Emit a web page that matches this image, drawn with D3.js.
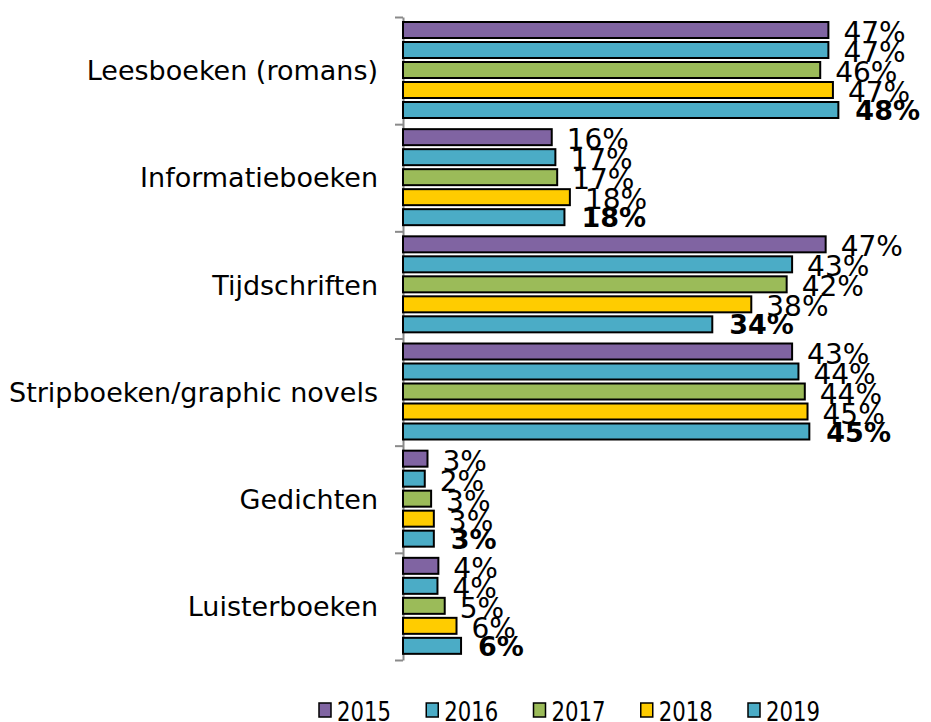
<!DOCTYPE html>
<html>
<head>
<meta charset="utf-8">
<script src="https://cdn.jsdelivr.net/npm/d3@7"></script>
<style>
  body { margin: 0; background: #fff; }
  text { font-family: "DejaVu Sans", Verdana, sans-serif; fill: #000; }
</style>
</head>
<body>
<div id="chart"></div>
<script>
var categories = ['Leesboeken (romans)', 'Informatieboeken', 'Tijdschriften',
                  'Stripboeken/graphic novels', 'Gedichten', 'Luisterboeken'];
var years = ['2015', '2016', '2017', '2018', '2019'];
var colors = ['#8064a2', '#4bacc6', '#9bbb59', '#ffcc00', '#4bacc6'];

// percentages per year, same order as categories
var v2015 = [46.9, 16.4, 46.6, 42.9, 2.7, 3.9];
var v2016 = [46.9, 16.8, 42.9, 43.6, 2.4, 3.8];
var v2017 = [46.0, 17.0, 42.3, 44.3, 3.1, 4.6];
var v2018 = [47.4, 18.4, 38.4, 44.6, 3.4, 5.9];
var v2019 = [48.0, 17.8, 34.1, 44.8, 3.4, 6.4];
var series = [v2015, v2016, v2017, v2018, v2019];

document.addEventListener("DOMContentLoaded", function() {
  var width = 931,
      height = 722,
      svg = d3.select('#chart').append('svg')
              .attr('width', width)
              .attr('height', height);

  var axisX = 403;

  var x = d3.scaleLinear()
    .domain([0, 50])
    .range([axisX, axisX + 453.5]);

  var y = d3.scaleBand()
    .domain(categories)
    .range([17, 660]);

  var yInner = d3.scaleBand()
    .domain(years)
    .range([5, 101])
    .paddingInner(0.2);

  // axis with ticks on the category boundaries
  var edge = d3.scaleLinear().domain([0, categories.length]).range([17, 660]);
  var axis = svg.append('g')
    .attr('transform', 'translate(' + axisX + ',0)')
    .call(d3.axisLeft(edge).tickValues(d3.range(categories.length + 1))
      .tickFormat('').tickSize(8).tickSizeOuter(0));
  axis.selectAll('path, line').attr('stroke', '#8a8a8a').attr('stroke-width', 2);

  // category labels
  svg.append('g').selectAll('text')
    .data(categories)
    .enter().append('text')
    .attr('x', 378)
    .attr('y', function(d) { return y(d) + y.bandwidth() / 2; })
    .attr('dy', '0.36em')
    .attr('text-anchor', 'end')
    .style('font-size', '27px')
    .text(function(d) { return d; });

  var groups = svg.append('g').selectAll('g')
    .data(years)
    .enter().append('g');

  groups.each(function(yr, s) {
    var g = d3.select(this);
    var rows = categories.map(function(c, i) { return { cat: c, value: series[s][i] }; });

    g.selectAll('rect')
      .data(rows)
      .enter().append('rect')
      .attr('x', x(0))
      .attr('y', function(d) { return y(d.cat) + yInner(yr); })
      .attr('width', function(d) { return x(d.value) - x(0); })
      .attr('height', yInner.bandwidth())
      .attr('fill', colors[s])
      .attr('stroke', '#000')
      .attr('stroke-width', 2);

    var bold = s === years.length - 1;
    g.selectAll('text')
      .data(rows)
      .enter().append('text')
      .attr('x', function(d) { return x(d.value) + (bold ? 17 : 15); })
      .attr('y', function(d) { return y(d.cat) + yInner(yr) + yInner.bandwidth() / 2 + (bold ? 10 : 12); })
      .style('font-size', bold ? '27px' : '28px')
      .style('font-weight', bold ? 'bold' : 'normal')
      .text(function(d) { return Math.round(d.value) + '%'; });
  });

  // legend
  var lx = d3.scalePoint().domain(years).range([319, 748]);
  var legend = svg.append('g').selectAll('g')
    .data(years)
    .enter().append('g')
    .attr('transform', function(d) { return 'translate(' + lx(d) + ',703)'; });

  legend.append('rect')
    .attr('width', 12)
    .attr('height', 14)
    .attr('fill', function(d, i) { return colors[i]; })
    .attr('stroke', '#000')
    .attr('stroke-width', 1.5);

  legend.append('text')
    .attr('x', 18)
    .attr('y', 17.5)
    .attr('textLength', 54)
    .attr('lengthAdjust', 'spacingAndGlyphs')
    .style('font-size', '26px')
    .text(function(d) { return d; });
});
</script>
</body>
</html>
